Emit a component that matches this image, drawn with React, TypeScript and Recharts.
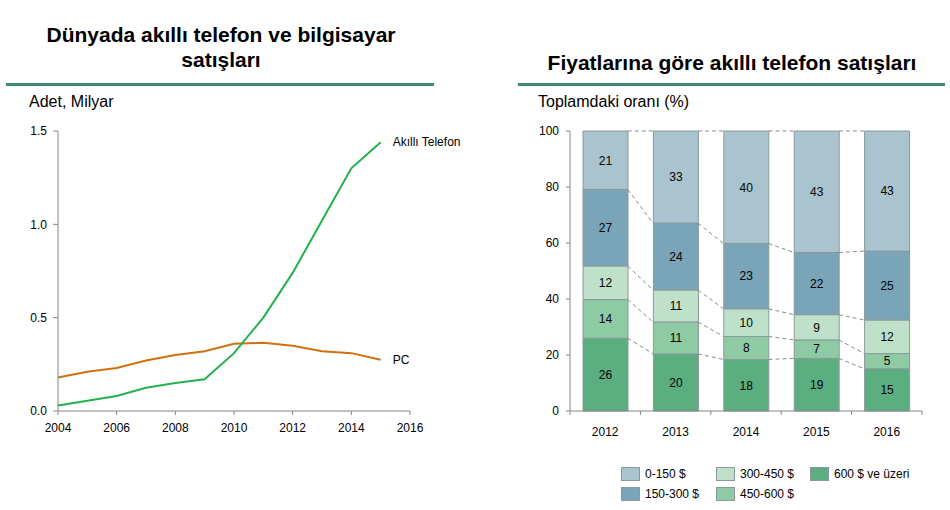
import React from 'react';
import {
  LineChart, Line, XAxis, YAxis, ComposedChart, Bar, LabelList, Legend,
} from 'recharts';

// ---- Left chart data ----
const years = [2004, 2005, 2006, 2007, 2008, 2009, 2010, 2011, 2012, 2013, 2014, 2015];
const smartphone = [0.03, 0.055, 0.08, 0.125, 0.15, 0.17, 0.31, 0.5, 0.74, 1.02, 1.3, 1.44];
const pc = [0.18, 0.21, 0.23, 0.27, 0.3, 0.32, 0.36, 0.365, 0.35, 0.32, 0.31, 0.275];
const leftXTicks = [2004, 2006, 2008, 2010, 2012, 2014, 2016];
const leftYTicks = [0, 0.5, 1.0, 1.5];

// ---- Right chart data ----
const barYears = ['2012', '2013', '2014', '2015', '2016'];
const s600plus = [26.0, 20.4, 18.4, 18.8, 15.1];
const s450_600 = [13.8, 11.4, 8.2, 6.6, 5.4];
const s300_450 = [12.0, 11.4, 9.9, 9.0, 12.0];
const s150_300 = [27.3, 23.9, 23.3, 22.2, 24.6];
const s0_150 = [20.9, 32.9, 40.2, 43.4, 42.9];
const rightYTicks = [0, 20, 40, 60, 80, 100];

const seriesNames = ['600 $ ve üzeri', '450-600 $', '300-450 $', '150-300 $', '0-150 $'];
const seriesValues = [s600plus, s450_600, s300_450, s150_300, s0_150];
const seriesColors = ['#5bae80', '#8ecba5', '#bfe0c9', '#7aa4b8', '#a9c4cf'];

const lineData = years.map((y, i) => ({ year: y, phone: smartphone[i], pc: pc[i] }));

const barData = barYears.map((y, i) => {
  const row: any = { idx: i, year: y };
  seriesValues.forEach((arr, k) => { row['s' + k] = arr[i]; });
  return row;
});

// ticks: category boundaries (half values) and centres (integers)
const barXTicks = [-0.5, 0, 0.5, 1, 1.5, 2, 2.5, 3, 3.5, 4, 4.5];

// half-bar width in category units (bar 45px of 70.4px band)
const HALF = 0.32;
const connectorData = seriesValues.map((_, k) => {
  const cum = barYears.map((_, i) => seriesValues.slice(0, k + 1).reduce((s, a) => s + a[i], 0));
  const pts: any[] = [];
  for (let i = 0; i < barYears.length - 1; i++) {
    pts.push({ idx: i + HALF, v: cum[i] });
    pts.push({ idx: i + 1 - HALF, v: cum[i + 1] });
    pts.push({ idx: i + 1, v: null });
  }
  return pts;
});

const FONT = 'Arial, "Liberation Sans", sans-serif';
const AXIS = '#868686';

const EndLabel = (props: any) => {
  const { x, y, index, text } = props;
  if (index !== years.length - 1) return null;
  return (
    <text x={x + 12} y={y} dy="0.35em" fontSize={12} fill="#000" fontFamily={FONT}>{text}</text>
  );
};

const BarTick = (props: any) => {
  const { x, y, payload } = props;
  const v = payload.value;
  if (Number.isInteger(v)) {
    return (
      <text x={x} y={y + 12} dy="0.71em" textAnchor="middle" fontSize={12} fill="#000" fontFamily={FONT}>
        {barYears[v]}
      </text>
    );
  }
  return <line x1={x} x2={x} y1={y - 4} y2={y} stroke={AXIS} />;
};

const LegendContent = () => {
  const order = [4, 3, 2, 1, 0];
  const pos = [
    { left: 0, top: 0 }, { left: 0, top: 20 },
    { left: 95, top: 0 }, { left: 95, top: 20 },
    { left: 189, top: 0 },
  ];
  return (
    <div style={{ position: 'relative', width: 320, height: 40, fontFamily: FONT, fontSize: 12 }}>
      {order.map((k, j) => (
        <div key={k} style={{ position: 'absolute', left: pos[j].left, top: pos[j].top, display: 'flex', alignItems: 'center' }}>
          <span style={{ display: 'inline-block', width: 17, height: 12, background: seriesColors[k], border: '1px solid #8a9a9a', marginRight: 5 }} />
          <span>{seriesNames[k]}</span>
        </div>
      ))}
    </div>
  );
};

export default function App() {
  return (
    <div style={{ position: 'absolute', left: 0, top: 0, width: 950, height: 510, background: '#fff', fontFamily: FONT }}>
      {/* Left titles */}
      <div style={{ position: 'absolute', left: 0, top: 22, width: 442, textAlign: 'center', fontWeight: 'bold', fontSize: 21, lineHeight: '25px', color: '#000' }}>
        Dünyada akıllı telefon ve bilgisayar<br />satışları
      </div>
      <div style={{ position: 'absolute', left: 6, top: 83, width: 428, height: 3, background: '#3a8a74' }} />
      <div style={{ position: 'absolute', left: 29, top: 93, fontSize: 16, color: '#000' }}>Adet, Milyar</div>

      {/* Right titles */}
      <div style={{ position: 'absolute', left: 518, top: 50, width: 428, textAlign: 'center', fontWeight: 'bold', fontSize: 21, lineHeight: '25px', color: '#000' }}>
        Fiyatlarına göre akıllı telefon satışları
      </div>
      <div style={{ position: 'absolute', left: 518, top: 83, width: 427, height: 3, background: '#3a8a74' }} />
      <div style={{ position: 'absolute', left: 538, top: 93, fontSize: 16, color: '#000' }}>Toplamdaki oranı (%)</div>

      {/* Left chart */}
      <div style={{ position: 'absolute', left: 0, top: 0 }}>
        <LineChart width={475} height={460} data={lineData} margin={{ top: 131, right: 65, bottom: 19, left: 0 }}>
          <XAxis dataKey="year" type="number" domain={[2004, 2016]} ticks={leftXTicks}
            stroke={AXIS} tickSize={4} tickMargin={8} height={30}
            tick={{ fill: '#000', fontSize: 12, fontFamily: FONT }} />
          <YAxis type="number" domain={[0, 1.5]} ticks={leftYTicks} width={58}
            stroke={AXIS} tickSize={5} tickMargin={6}
            tickFormatter={(v: number) => v.toFixed(1)}
            tick={{ fill: '#000', fontSize: 12, fontFamily: FONT }} />
          <Line dataKey="pc" stroke="#d0710f" strokeWidth={2} dot={false} isAnimationActive={false}
            label={<EndLabel text="PC" />} />
          <Line dataKey="phone" stroke="#22b14c" strokeWidth={2} dot={false} isAnimationActive={false}
            label={<EndLabel text="Akıllı Telefon" />} />
        </LineChart>
      </div>

      {/* Right chart */}
      <div style={{ position: 'absolute', left: 475, top: 0 }}>
        <ComposedChart width={475} height={510} data={barData} margin={{ top: 131, right: 28, bottom: 69, left: 55 }}>
          <XAxis xAxisId="x" dataKey="idx" type="number" domain={[-0.5, 4.5]} ticks={barXTicks}
            interval={0} stroke={AXIS} tickLine={false} tickSize={4} tickMargin={0} height={30}
            tick={<BarTick />} />
          <XAxis xAxisId="conn" dataKey="idx" type="number" domain={[-0.5, 4.5]} hide height={0} />
          <YAxis type="number" domain={[0, 100]} ticks={rightYTicks} width={40}
            stroke={AXIS} tickSize={4} tickMargin={7}
            tick={{ fill: '#000', fontSize: 12, fontFamily: FONT }} />
          {connectorData.map((d, k) => (
            <Line key={'c' + k} xAxisId="conn" data={d} dataKey="v" type="linear"
              stroke="#8a8a8a" strokeWidth={1} strokeDasharray="4 3" dot={false}
              connectNulls={false} isAnimationActive={false} legendType="none" />
          ))}
          {seriesValues.map((_, k) => (
            <Bar key={'b' + k} xAxisId="x" dataKey={'s' + k} stackId="a" barSize={45}
              fill={seriesColors[k]} stroke="#8a9a9a" strokeWidth={1} isAnimationActive={false}
              name={seriesNames[k]}>
              <LabelList dataKey={'s' + k} position="center" fill="#000" fontSize={12} fontFamily={FONT}
                formatter={(v: any) => Math.round(Number(v))} />
            </Bar>
          ))}
          <Legend layout="horizontal" verticalAlign="middle" align="center"
            content={<LegendContent />}
            wrapperStyle={{ position: 'absolute', left: 146, top: 467, width: 320, height: 40 }} />
        </ComposedChart>
      </div>
    </div>
  );
}
